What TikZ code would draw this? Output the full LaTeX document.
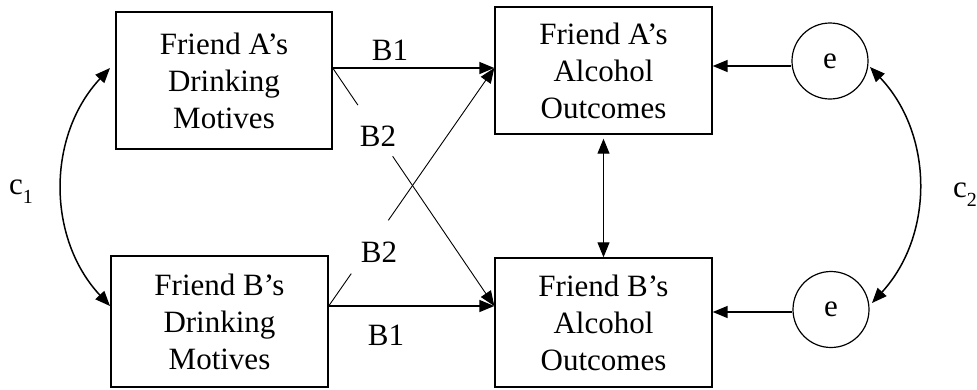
\documentclass[tikz,border=0pt]{standalone}
\usepackage{fontspec}
\setmainfont{Liberation Serif}
\usetikzlibrary{arrows.meta,calc}
\begin{document}
\begin{tikzpicture}[x=1pt,y=-1pt,
  txt/.style={font=\fontsize{31}{37}\selectfont},
  box/.style={draw,line width=1.4pt,align=center,txt,inner sep=0pt},
  err/.style={draw,circle,line width=1.2pt,minimum size=76pt,inner sep=0pt,txt},
  lbl/.style={txt,inner sep=0pt},
  tip/.style={Triangle[length=15pt,width=12pt]},
  arr/.style={-{Triangle[length=15pt,width=12pt]},line width=1.5pt},
  thinarr/.style={-{Triangle[length=15pt,width=12pt]},line width=0.9pt},
  thinline/.style={line width=0.9pt},
  dbl/.style={{Triangle[length=15pt,width=12pt]}-{Triangle[length=15pt,width=12pt]},line width=1.5pt},
  dblthin/.style={{Triangle[length=15pt,width=12pt]}-{Triangle[length=15pt,width=12pt]},line width=1pt},
]
\useasboundingbox (0,0) rectangle (977,389);
% boxes
\node[box,minimum width=216pt,minimum height=137pt] (FA) at (224,80.5) {Friend A’s\\Drinking\\Motives};
\node[box,minimum width=217pt,minimum height=131pt] (FB) at (219.5,321.5) {Friend B’s\\Drinking\\Motives};
\node[box,minimum width=217pt,minimum height=127pt] (OA) at (603.5,70.5) {Friend A’s\\Alcohol\\Outcomes};
\node[box,minimum width=217pt,minimum height=129pt] (OB) at (603.5,322.5) {Friend B’s\\Alcohol\\Outcomes};
% error terms
\node[err] (EA) at (830,61) {e};
\node[err] (EB) at (831,309.5) {e};
% connection points
\coordinate (fao) at (FA.east |- 0,68);
\coordinate (fbo) at (FB.east |- 0,306);
\coordinate (oai) at (OA.west |- 0,68);
\coordinate (obi) at (OB.west |- 0,306);
\coordinate (g1) at ($(fao)!0.156!(obi)$);
\coordinate (g2) at ($(fao)!0.371!(obi)$);
\coordinate (g3) at ($(fbo)!0.136!(oai)$);
\coordinate (g4) at ($(fbo)!0.36!(oai)$);
% B1 paths
\draw[arr] (fao) -- (oai);
\draw[arr] (fbo) -- (obi);
% B2 paths
\draw[thinline] (fao) -- (g1);
\draw[thinarr] (g2) -- (obi);
\draw[thinline] (fbo) -- (g3);
\draw[thinarr] (g4) -- (oai);
% labels
\node[lbl] (b1t) at (390,50) {B1};
\node[lbl] (b2t) at (378,136) {B2};
\node[lbl] (b2b) at (379,252) {B2};
\node[lbl] (b1b) at (386,335) {B1};
% outcome correlation
\draw[dblthin] ([yshift=-4pt]OA.south) -- (OB.north);
% error arrows
\draw[arr] ([yshift=-5pt]EA.west) -- ([yshift=-5pt]EA.west -| OA.east);
\draw[arr] ([yshift=-2.5pt]EB.west) -- ([yshift=-2.5pt]EB.west -| OB.east);
% covariances
\coordinate (c1t) at (110,68);
\coordinate (c1b) at (110,306);
\coordinate (c2t) at (870,67);
\coordinate (c2b) at (872,303);
\draw[dbl] (c1t) to[bend right=43] (c1b);
\draw[dbl] (c2t) to[bend left=43] (c2b);
\node[lbl] (c1) at (21,192) {c\raisebox{-0.3em}{\fontsize{20}{20}\selectfont 1}};
\node[lbl] (c2) at (965,195) {c\raisebox{-0.3em}{\fontsize{20}{20}\selectfont 2}};
\end{tikzpicture}
\end{document}
